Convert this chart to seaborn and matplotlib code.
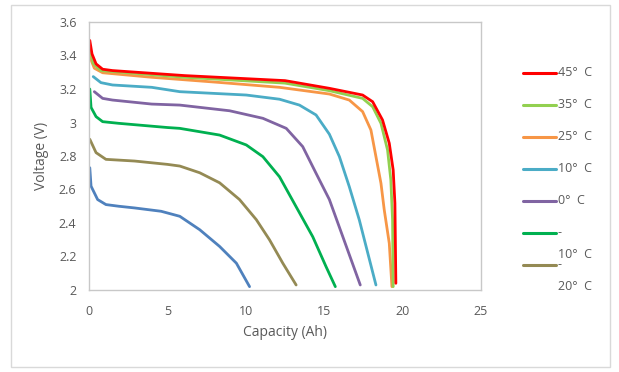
import pandas as pd
import seaborn as sns
import matplotlib.pyplot as plt
from matplotlib.lines import Line2D
from matplotlib.patches import Rectangle

sns.set_theme(style="white")
plt.rcParams['font.family'] = ['Open Sans', 'DejaVu Sans']

# Discharge curves: capacity (Ah) and voltage (V)
cap_m30 = [0.05, 0.13, 0.55, 1.08, 1.9, 2.9, 4.6, 5.79, 7.06, 8.33, 9.4, 10.24]
v_m30 = [2.73, 2.62, 2.54, 2.51, 2.50, 2.49, 2.47, 2.44, 2.36, 2.26, 2.16, 2.02]

cap_m20 = [0.05, 0.45, 1.08, 2.9, 5.0, 5.79, 7.06, 8.33, 9.6, 10.67, 11.51, 12.36, 13.21]
v_m20 = [2.90, 2.82, 2.78, 2.77, 2.75, 2.74, 2.70, 2.64, 2.54, 2.42, 2.30, 2.16, 2.03]

cap_m10 = [0.05, 0.13, 0.45, 0.87, 1.9, 5.0, 5.79, 8.33, 10.03, 11.09, 12.15, 13.21, 14.27, 15.12, 15.71]
v_m10 = [3.20, 3.09, 3.035, 3.005, 2.995, 2.97, 2.965, 2.925, 2.866, 2.796, 2.676, 2.497, 2.318, 2.139, 2.02]

cap_0 = [0.34, 0.87, 1.5, 4.0, 5.79, 8.97, 11.09, 12.58, 13.63, 14.48, 15.33, 16.18, 17.3]
v_0 = [3.184, 3.144, 3.134, 3.11, 3.104, 3.07, 3.025, 2.965, 2.856, 2.697, 2.54, 2.32, 2.03]

cap_10 = [0.27, 0.76, 1.5, 4.0, 5.79, 10.03, 12.15, 13.42, 14.48, 15.33, 15.97, 16.6, 17.24, 18.3]
v_10 = [3.274, 3.238, 3.224, 3.21, 3.184, 3.164, 3.139, 3.104, 3.045, 2.93, 2.796, 2.617, 2.418, 2.03]

cap_25 = [0.05, 0.34, 0.87, 4.0, 8.2, 12.15, 15.33, 16.6, 17.45, 17.98, 18.3, 18.62, 18.83, 19.15, 19.32]
v_25 = [3.393, 3.324, 3.297, 3.27, 3.24, 3.21, 3.17, 3.134, 3.065, 2.955, 2.796, 2.637, 2.478, 2.279, 2.02]

cap_35 = [0.05, 0.27, 0.76, 6.1, 12.5, 15.33, 17.45, 18.09, 18.62, 19.04, 19.25, 19.36, 19.4]
v_35 = [3.443, 3.353, 3.31, 3.27, 3.235, 3.19, 3.144, 3.094, 2.995, 2.836, 2.657, 2.418, 2.02]

cap_45 = [0.05, 0.19, 0.45, 0.87, 1.5, 6.1, 12.5, 15.33, 17.45, 18.09, 18.72, 19.15, 19.4, 19.51, 19.57]
v_45 = [3.49, 3.41, 3.35, 3.318, 3.31, 3.28, 3.25, 3.204, 3.164, 3.124, 3.015, 2.876, 2.716, 2.518, 2.04]

series = ["-30", "-20", "-10", "0", "10", "25", "35", "45"]
caps = [cap_m30, cap_m20, cap_m10, cap_0, cap_10, cap_25, cap_35, cap_45]
volts = [v_m30, v_m20, v_m10, v_0, v_10, v_25, v_35, v_45]
colors = ["#4F81BD", "#948A54", "#00B050", "#8064A2", "#4BACC6", "#F79646", "#92D050", "#FF0000"]

legend_labels = ["45°  C", "35°  C", "25°  C", "10°  C", "0°  C", "-\n10°  C", "-\n20°  C"]
legend_colors = ["#FF0000", "#92D050", "#F79646", "#4BACC6", "#8064A2", "#00B050", "#948A54"]

rows = []
for name, c, v in zip(series, caps, volts):
    for i, (x, y) in enumerate(zip(c, v)):
        rows.append({"temp": name, "order": i, "capacity": x, "voltage": y})
df = pd.DataFrame(rows)

fig = plt.figure(figsize=(6.19, 3.72), dpi=100)
ax = fig.add_axes([89 / 619, 1 - 290 / 372, 392 / 619, 268 / 372])

sns.lineplot(data=df, x="capacity", y="voltage", hue="temp", hue_order=series,
             palette=colors, sort=False, estimator=None, units="temp",
             linewidth=2.0, legend=False, ax=ax,
             solid_joinstyle="round", solid_capstyle="round")

ax.set_xlim(0, 25)
ax.set_ylim(2, 3.6)
ax.set_xticks([0, 5, 10, 15, 20, 25])
ax.set_yticks([2, 2.2, 2.4, 2.6, 2.8, 3, 3.2, 3.4, 3.6])
ax.set_yticklabels(["2", "2.2", "2.4", "2.6", "2.8", "3", "3.2", "3.4", "3.6"])
ax.tick_params(length=0, labelsize=9, labelcolor="#595959")
ax.tick_params(axis="y", pad=9)
ax.tick_params(axis="x", pad=11)
for s in ax.spines.values():
    s.set_color("#C8C8C8")
    s.set_linewidth(1)

ax.set_xlabel("Capacity (Ah)", fontsize=10, color="#595959")
ax.set_ylabel("Voltage (V)", fontsize=10, color="#595959")
ax.xaxis.set_label_coords(0.5, -0.132)
ax.yaxis.set_label_coords(-0.103, 0.5)

# legend drawn at the right, Excel style
for i, (lab, col) in enumerate(zip(legend_labels, legend_colors)):
    y = 1 - (73 + 32 * i) / 372
    fig.add_artist(Line2D([523 / 619, 556 / 619], [y, y], color=col, lw=2.2,
                          transform=fig.transFigure))
    fig.text(558 / 619, y + 7 / 372, lab, fontsize=9, color="#595959",
             va="top", ha="left", linespacing=1.9)

fig.add_artist(Rectangle((11 / 619, 5 / 372), 599 / 619, 362 / 372, fill=False,
                         edgecolor="#D9D9D9", lw=1, transform=fig.transFigure))

fig.savefig("out.png", dpi=100)
